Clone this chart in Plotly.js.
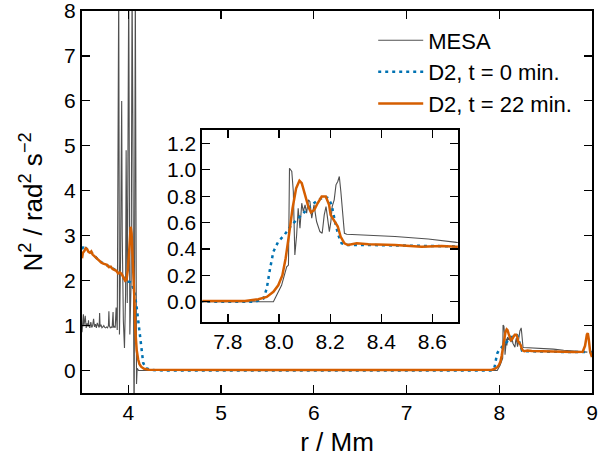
<!DOCTYPE html>
<html>
<head>
<meta charset="utf-8">
<script src="https://cdn.plot.ly/plotly-3.0.1.min.js"></script>
<style>html,body{margin:0;padding:0;background:#fff;}#chart{width:612px;height:461px;}</style>
</head>
<body>
<div id="chart"></div>
<script>
// MESA profile
const mesaR = [3.500,3.505,3.510,3.515,3.520,3.525,3.530,3.535,3.545,3.555,3.565,3.570,3.575,3.585,3.595,3.605,3.615,3.625,3.635,3.645,3.655,3.665,3.675,3.685,3.690,3.695,3.705,3.715,3.725,3.735,3.745,3.755,3.765,3.775,3.785,3.790,3.795,3.805,3.815,3.825,3.835,3.840,3.850,3.858,3.868,3.880,3.896,3.904,3.916,3.928,3.934,3.946,3.958,3.970,3.976,3.988,4.004,4.016,4.030,4.040,4.048,4.054,4.062,4.075,4.088,4.095,4.110,4.500,5.500,6.500,7.500,7.978,8.010,8.030,8.037,8.041,8.050,8.056,8.062,8.069,8.075,8.082,8.089,8.095,8.102,8.108,8.115,8.121,8.128,8.137,8.147,8.160,8.169,8.177,8.184,8.190,8.197,8.203,8.208,8.216,8.223,8.230,8.236,8.242,8.256,8.265,8.454,8.584,8.695,8.800,8.870,8.950];
const mesaN2 = [0.85,1.05,0.95,1.25,0.98,1.08,1.02,1.22,0.95,1.05,0.98,1.12,1.00,0.95,1.08,0.96,1.00,1.15,0.97,1.03,0.95,1.06,1.00,0.96,1.28,0.98,1.02,0.95,0.97,1.00,0.96,0.95,0.97,0.95,1.00,1.32,1.00,0.95,0.97,0.95,1.30,0.96,0.98,0.95,1.40,0.90,8.60,0.80,2.50,6.00,3.00,1.10,0.50,1.70,4.90,1.50,8.60,0.80,2.00,8.60,5.70,1.60,-1.50,8.60,-0.30,0.05,0.00,0.00,0.00,0.00,0.00,0.00,0.125,0.265,0.278,1.012,0.987,0.835,0.354,0.506,0.709,0.557,0.747,0.684,0.734,0.671,0.772,0.759,0.633,0.734,0.608,0.532,0.519,0.658,0.721,0.633,0.532,0.608,0.721,0.772,0.886,0.911,0.949,0.835,0.519,0.511,0.494,0.476,0.450,0.440,0.420,0.410];

// D2, t = 0 min.
const d2t0R = [3.500,3.515,3.530,3.545,3.560,3.580,3.600,3.620,3.650,3.680,3.710,3.740,3.770,3.800,3.830,3.860,3.890,3.920,3.950,3.970,4.000,4.030,4.050,4.070,4.090,4.107,4.126,4.145,4.160,4.190,4.250,4.400,5.500,6.500,7.500,7.906,7.939,7.952,7.965,7.978,7.997,8.021,8.049,8.075,8.102,8.128,8.154,8.180,8.193,8.206,8.219,8.232,8.245,8.270,8.350,8.450,8.550,8.650,8.750,8.850,8.950,9.000];
const d2t0N2 = [2.70,2.75,2.68,2.72,2.69,2.64,2.63,2.58,2.51,2.45,2.41,2.37,2.34,2.31,2.28,2.24,2.18,2.16,2.06,2.01,1.98,1.96,1.85,1.70,1.40,1.10,0.70,0.37,0.17,0.05,0.01,0.00,0.00,0.00,0.00,0.00,0.025,0.10,0.252,0.38,0.456,0.506,0.582,0.633,0.684,0.734,0.772,0.797,0.785,0.734,0.608,0.506,0.443,0.430,0.430,0.425,0.415,0.415,0.410,0.410,0.410,0.410];

// D2, t = 22 min.
const d2t22R = [3.500,3.510,3.525,3.540,3.555,3.570,3.585,3.600,3.615,3.630,3.650,3.670,3.690,3.710,3.730,3.750,3.770,3.790,3.810,3.830,3.850,3.870,3.890,3.910,3.930,3.950,3.965,3.980,3.995,4.010,4.025,4.035,4.045,4.055,4.065,4.075,4.090,4.105,4.120,4.140,4.170,4.220,5.000,6.000,7.000,7.800,7.867,7.919,7.952,7.978,7.997,8.013,8.026,8.039,8.053,8.067,8.080,8.089,8.102,8.115,8.125,8.138,8.151,8.167,8.183,8.196,8.202,8.215,8.230,8.241,8.256,8.270,8.304,8.350,8.454,8.558,8.636,8.695,8.800,8.900,8.925,8.945,8.955,8.965,8.980,9.000];
const d2t22N2 = [2.50,2.62,2.66,2.72,2.70,2.64,2.62,2.65,2.58,2.55,2.50,2.46,2.44,2.40,2.38,2.36,2.35,2.30,2.31,2.26,2.24,2.22,2.16,2.18,2.14,2.06,2.00,2.02,2.25,2.70,3.20,3.05,2.60,2.20,1.60,0.90,0.45,0.25,0.14,0.08,0.04,0.02,0.01,0.01,0.01,0.005,0.006,0.019,0.037,0.075,0.125,0.20,0.33,0.506,0.709,0.86,0.917,0.899,0.81,0.72,0.678,0.696,0.746,0.797,0.797,0.734,0.658,0.62,0.57,0.494,0.443,0.43,0.443,0.435,0.43,0.417,0.422,0.417,0.415,0.42,0.55,0.80,0.83,0.70,0.42,0.30];

const seriesNames = ['MESA', 'D2, t = 0 min.', 'D2, t = 22 min.'];
const mainXTicks = [4, 5, 6, 7, 8, 9];
const mainYTicks = [0, 1, 2, 3, 4, 5, 6, 7, 8];
const insetXTicks = [7.8, 8.0, 8.2, 8.4, 8.6];
const insetYTicks = [0.0, 0.2, 0.4, 0.6, 0.8, 1.0, 1.2];

const FONT = 'Liberation Sans, Arial, Helvetica, sans-serif';
const cMesa = '#505050', cT0 = '#0072B2', cT22 = '#D55E00';

function traces(xa, ya, show) {
  return [
    {x: mesaR, y: mesaN2, mode: 'lines', name: seriesNames[0], showlegend: show, xaxis: xa, yaxis: ya,
     line: {color: cMesa, width: 1.1}},
    {x: d2t0R, y: d2t0N2, mode: 'lines', name: seriesNames[1], showlegend: show, xaxis: xa, yaxis: ya,
     line: {color: cT0, width: 2.5, dash: '3px,4px'}},
    {x: d2t22R, y: d2t22N2, mode: 'lines', name: seriesNames[2], showlegend: show, xaxis: xa, yaxis: ya,
     line: {color: cT22, width: 2.5}}
  ];
}

const data = traces('x', 'y', true).concat(traces('x2', 'y2', false));

const axBase = {
  showline: true, linecolor: '#000', linewidth: 2, mirror: 'allticks',
  ticks: 'inside', ticklen: 8, tickwidth: 1.2, tickcolor: '#000',
  showgrid: false, zeroline: false, ticklabeloverflow: 'allow',
  tickfont: {family: FONT, size: 21, color: '#000'}
};

const layout = {
  width: 612, height: 461,
  margin: {l: 82, r: 20, t: 11, b: 68},
  paper_bgcolor: '#fff', plot_bgcolor: '#fff',
  font: {family: FONT, color: '#000'},
  showlegend: true,
  legend: {x: 0.571, y: 0.978, xanchor: 'left', yanchor: 'top', bgcolor: 'rgba(0,0,0,0)',
           font: {family: FONT, size: 22, color: '#000'}, itemwidth: 45},
  xaxis: Object.assign({}, axBase, {range: [3.5, 9], tickvals: mainXTicks, ticktext: mainXTicks.map(String),
    title: {text: 'r / Mm', font: {family: FONT, size: 26, color: '#000'}, standoff: 10}}),
  yaxis: Object.assign({}, axBase, {range: [-0.5, 8], tickvals: mainYTicks, ticktext: mainYTicks.map(String),
    title: {text: 'N<sup>2</sup> / rad<sup>2</sup> s<sup>\u22122</sup>', font: {family: FONT, size: 26, color: '#000'}, standoff: 14}}),
  xaxis2: Object.assign({}, axBase, {domain: [0.236, 0.737], anchor: 'y2', range: [7.7, 8.7],
    tickvals: insetXTicks, ticktext: insetXTicks.map(v => v.toFixed(1))}),
  yaxis2: Object.assign({}, axBase, {domain: [0.187, 0.688], anchor: 'x2', range: [-0.15, 1.3],
    tickvals: insetYTicks, ticktext: insetYTicks.map(v => v.toFixed(1))})
};

Plotly.newPlot('chart', data, layout, {staticPlot: true, displayModeBar: false});
</script>
</body>
</html>
